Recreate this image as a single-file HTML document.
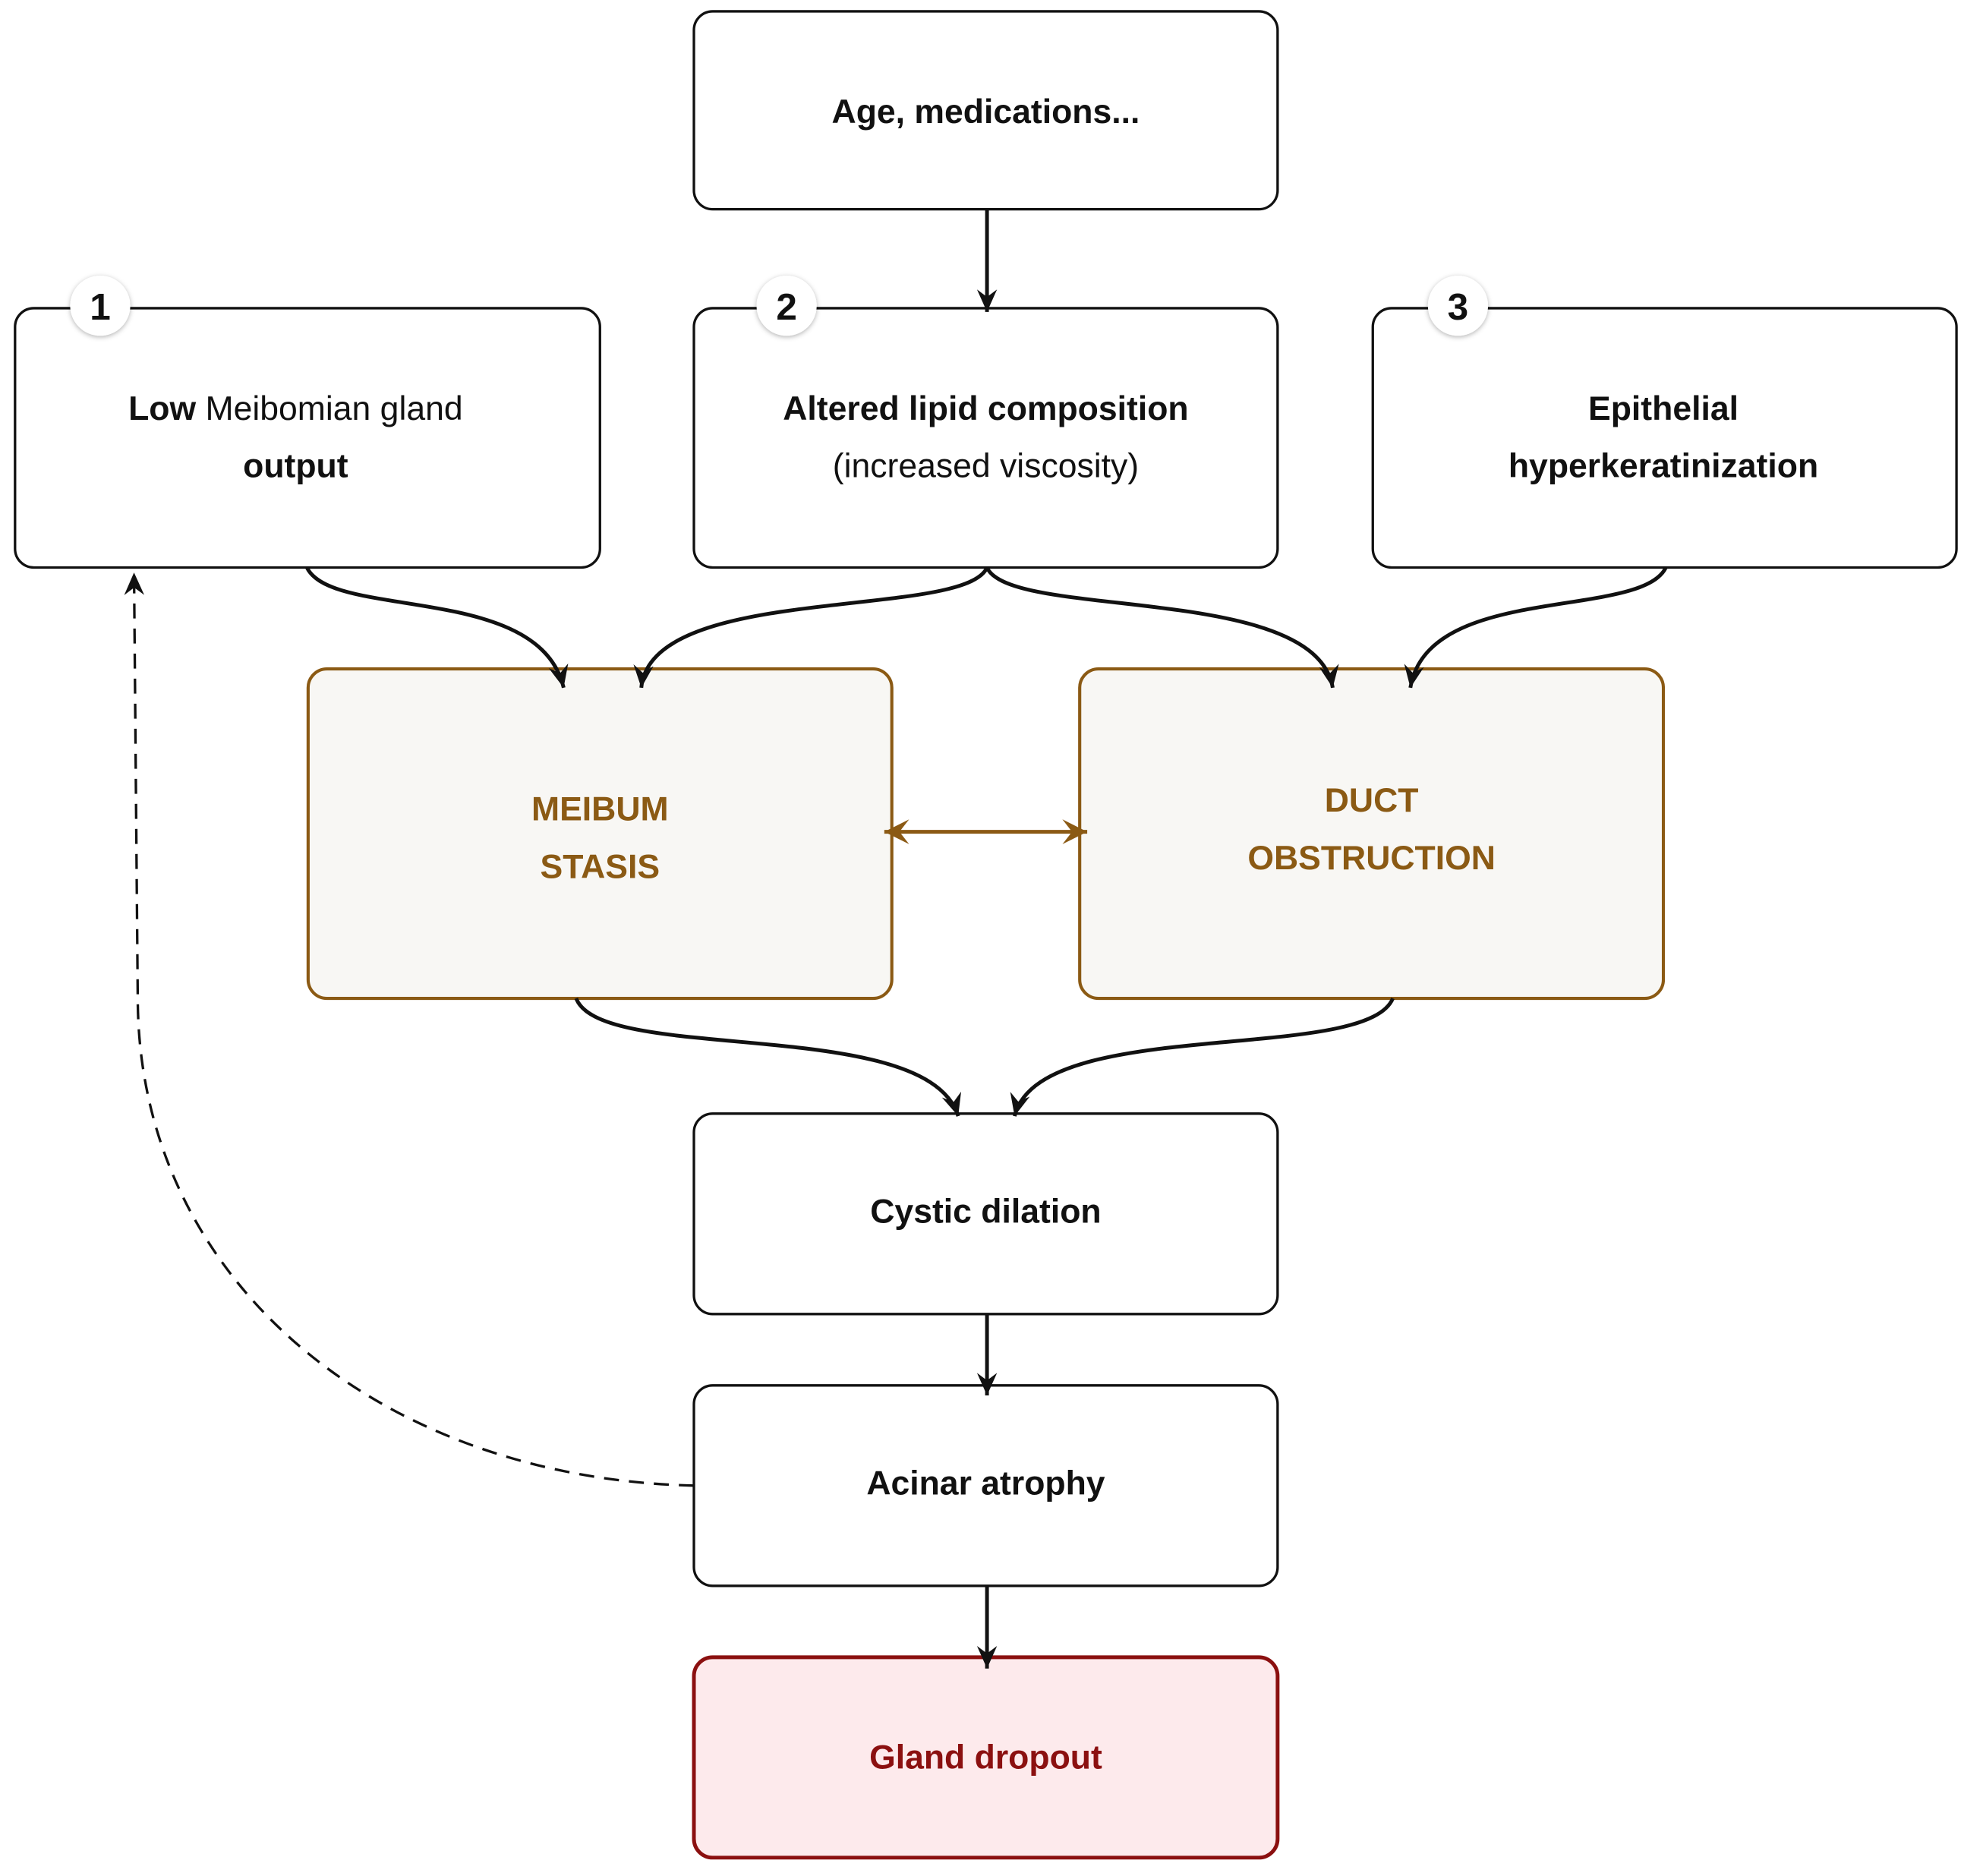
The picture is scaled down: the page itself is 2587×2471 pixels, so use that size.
<!DOCTYPE html>
<html><head><meta charset="utf-8"><style>
html,body{margin:0;padding:0;background:#fff;}
svg{display:block;}
text{font-family:"Liberation Sans",sans-serif;font-size:27px;text-anchor:middle;}
</style></head><body>
<svg width="2587" height="2471" viewBox="0 0 1568 1497.6" xmlns="http://www.w3.org/2000/svg">
<defs>
<marker id="a" viewBox="0 0 20 20" refX="18" refY="10" markerWidth="20" markerHeight="20" markerUnits="userSpaceOnUse" orient="auto">
<path d="M0,2 L18,10 L0,18 L6,10 Z" fill="#111"/></marker>
<marker id="b" viewBox="0 0 20 20" refX="18" refY="10" markerWidth="22" markerHeight="22" markerUnits="userSpaceOnUse" orient="auto">
<path d="M0,1 L18,10 L0,19 L7,10 Z" fill="#8b5a14"/></marker>
<marker id="bs" viewBox="0 0 20 20" refX="2" refY="10" markerWidth="22" markerHeight="22" markerUnits="userSpaceOnUse" orient="auto">
<path d="M20,1 L2,10 L20,19 L13,10 Z" fill="#8b5a14"/></marker>
<filter id="sh" x="-50%" y="-50%" width="200%" height="200%"><feDropShadow dx="0" dy="1" stdDeviation="2" flood-opacity="0.3"/></filter>
</defs>
<g fill="#fff" stroke="#111" stroke-width="2">
<rect x="554" y="9" width="466" height="158" rx="15"/>
<rect x="12" y="246" width="467" height="207" rx="15"/>
<rect x="554" y="246" width="466" height="207" rx="15"/>
<rect x="1096" y="246" width="466" height="207" rx="15"/>
<rect x="554" y="889" width="466" height="160" rx="15"/>
<rect x="554" y="1106" width="466" height="160" rx="15"/>
</g>
<rect x="246" y="534" width="466" height="263" rx="15" fill="#f8f7f4" stroke="#8b5a14" stroke-width="2.5"/>
<rect x="862" y="534" width="466" height="263" rx="15" fill="#f8f7f4" stroke="#8b5a14" stroke-width="2.5"/>
<rect x="554" y="1323" width="466" height="160" rx="15" fill="#fdeaec" stroke="#8b1010" stroke-width="3"/>
<g filter="url(#sh)" fill="#fff">
<circle cx="80" cy="244" r="24"/><circle cx="628" cy="244" r="24"/><circle cx="1164" cy="244" r="24"/>
</g>
<g font-weight="bold" fill="#111">
<text x="80" y="255" style="font-size:30px">1</text>
<text x="628" y="255" style="font-size:30px">2</text>
<text x="1164" y="255" style="font-size:30px">3</text>
<text x="787" y="98">Age, medications...</text>
<text x="236" y="335"><tspan>Low</tspan><tspan font-weight="normal"> Meibomian gland</tspan></text>
<text x="236" y="381">output</text>
<text x="787" y="335">Altered lipid composition</text>
<text x="787" y="381" font-weight="normal">(increased viscosity)</text>
<text x="1328" y="335">Epithelial</text>
<text x="1328" y="381">hyperkeratinization</text>
<text x="787" y="976">Cystic dilation</text>
<text x="787" y="1193">Acinar atrophy</text>
<text x="787" y="1412" fill="#8b1010">Gland dropout</text>
<text x="479" y="655" fill="#8b5a14">MEIBUM</text>
<text x="479" y="701" fill="#8b5a14">STASIS</text>
<text x="1095" y="648" fill="#8b5a14">DUCT</text>
<text x="1095" y="694" fill="#8b5a14">OBSTRUCTION</text>
</g>
<g fill="none" stroke="#111" stroke-width="3" marker-end="url(#a)">
<path d="M788 167 L788 249"/>
<path d="M245 453 C265 495 430 465 450 549"/>
<path d="M788 453 C770 495 520 465 512 549"/>
<path d="M788 453 C806 495 1050 465 1064 549"/>
<path d="M1330 453 C1310 495 1140 465 1126 549"/>
<path d="M460 797 C480 850 740 810 765 891"/>
<path d="M1112 797 C1090 850 830 810 810 891"/>
<path d="M788 1049 L788 1114"/>
<path d="M788 1266 L788 1332"/>
</g>
<path d="M554 1186 C300 1180 112 1020 110 800 L107 457" fill="none" stroke="#111" stroke-width="2" stroke-dasharray="12 8" marker-end="url(#a)"/>
<path d="M706 664 L868 664" stroke="#8b5a14" stroke-width="3" fill="none" marker-end="url(#b)" marker-start="url(#bs)"/>
</svg>
</body></html>
